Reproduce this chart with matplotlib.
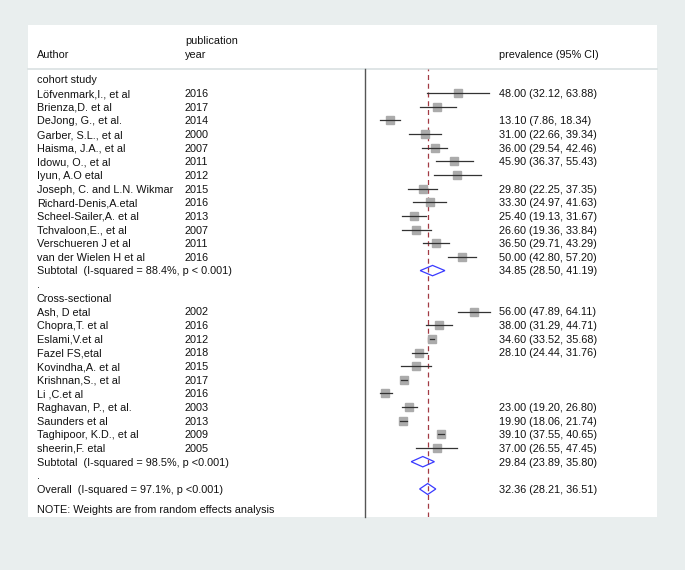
import matplotlib.pyplot as plt
from matplotlib.patches import Rectangle, Polygon

plt.rcParams['font.family'] = ['Liberation Sans', 'DejaVu Sans']

# cohort studies
cohort_authors = ['Löfvenmark,I., et al', 'Brienza,D. et al', 'DeJong, G., et al.',
                  'Garber, S.L., et al', 'Haisma, J.A., et al', 'Idowu, O., et al',
                  'Iyun, A.O etal', 'Joseph, C. and L.N. Wikmar', 'Richard-Denis,A.etal',
                  'Scheel-Sailer,A. et al', 'Tchvaloon,E., et al', 'Verschueren J et al',
                  'van der Wielen H et al']
cohort_years = ['2016', '2017', '2014', '2000', '2007', '2011', '2012', '2015',
                '2016', '2013', '2007', '2011', '2016']
cohort_est = [48.00, 37.3, 13.10, 31.00, 36.00, 45.90, 47.5, 29.80, 33.30, 25.40, 26.60, 36.50, 50.00]
cohort_lo = [32.12, 28.4, 7.86, 22.66, 29.54, 36.37, 35.6, 22.25, 24.97, 19.13, 19.36, 29.71, 42.80]
cohort_hi = [63.88, 46.9, 18.34, 39.34, 42.46, 55.43, 59.5, 37.35, 41.63, 31.67, 33.84, 43.29, 57.20]
cohort_text = ['48.00 (32.12, 63.88)', '', '13.10 (7.86, 18.34)', '31.00 (22.66, 39.34)',
               '36.00 (29.54, 42.46)', '45.90 (36.37, 55.43)', '', '29.80 (22.25, 37.35)',
               '33.30 (24.97, 41.63)', '25.40 (19.13, 31.67)', '26.60 (19.36, 33.84)',
               '36.50 (29.71, 43.29)', '50.00 (42.80, 57.20)']
cohort_sub = (34.85, 28.50, 41.19)
cohort_sub_label = 'Subtotal  (I-squared = 88.4%, p < 0.001)'

# cross-sectional studies
cross_authors = ['Ash, D etal', 'Chopra,T. et al', 'Eslami,V.et al', 'Fazel FS,etal',
                 'Kovindha,A. et al', 'Krishnan,S., et al', 'Li ,C.et al',
                 'Raghavan, P., et al.', 'Saunders et al', 'Taghipoor, K.D., et al',
                 'sheerin,F. etal']
cross_years = ['2002', '2016', '2012', '2018', '2015', '2017', '2016', '2003', '2013', '2009', '2005']
cross_est = [56.00, 38.00, 34.60, 28.10, 26.2, 20.0, 10.6, 23.00, 19.90, 39.10, 37.00]
cross_lo = [47.89, 31.29, 33.52, 24.44, 18.7, 18.6, 7.9, 19.20, 18.06, 37.55, 26.55]
cross_hi = [64.11, 44.71, 35.68, 31.76, 33.9, 21.5, 13.8, 26.80, 21.74, 40.65, 47.45]
cross_text = ['56.00 (47.89, 64.11)', '38.00 (31.29, 44.71)', '34.60 (33.52, 35.68)',
              '28.10 (24.44, 31.76)', '', '', '', '23.00 (19.20, 26.80)',
              '19.90 (18.06, 21.74)', '39.10 (37.55, 40.65)', '37.00 (26.55, 47.45)']
cross_sub = (29.84, 23.89, 35.80)
cross_sub_label = 'Subtotal  (I-squared = 98.5%, p <0.001)'

overall = (32.36, 28.21, 36.51)
overall_label = 'Overall  (I-squared = 97.1%, p <0.001)'

W, H = 685, 570
fig = plt.figure(figsize=(W / 100, H / 100), dpi=100)
fig.patch.set_facecolor('#e9eeee')

# background axes in pixel units for the panel and the text columns
bg = fig.add_axes([0, 0, 1, 1])
bg.set_xlim(0, W)
bg.set_ylim(H, 0)
bg.axis('off')
bg.add_patch(Rectangle((28, 25), 629, 492, facecolor='white', edgecolor='none'))
bg.plot([28, 657], [69.3, 69.3], color='#dce3e4', lw=1.3)

fs = 7.8
x_auth, x_year, x_val = 37, 185, 499
row0, step = 79.5, 13.65
base = 3.9  # baseline offset below row centre, px


def ypix(r):
    return row0 + step * r


def label(x, y, s):
    bg.text(x, y + base, s, fontsize=fs, va='baseline', color='#111111')


label(x_year, 40, 'publication')
label(x_auth, 54, 'Author')
label(x_year, 54, 'year')
label(x_val, 54, 'prevalence (95% CI)')

# forest axes
x0, x1 = 364.6, 495.3
y_top, y_bot = 69.3, 517
ax = fig.add_axes([x0 / W, 1 - y_bot / H, (x1 - x0) / W, (y_bot - y_top) / H])
ax.set_xlim(0, (x1 - x0) / 1.95)
ax.set_ylim((y_bot - row0) / step, (y_top - row0) / step)
ax.patch.set_alpha(0)
for s in ['top', 'right', 'bottom']:
    ax.spines[s].set_visible(False)
ax.spines['left'].set_color('#555555')
ax.spines['left'].set_linewidth(1.0)
ax.set_xticks([])
ax.set_yticks([])

ax.axvline(overall[0], color='#a33a44', lw=0.9, linestyle=(0, (4, 3)), zorder=1)


def study(r, est, lo, hi):
    ax.plot([est], [r], marker='s', markersize=5.6, color='#ababab', mec='#ababab', zorder=2)
    ax.plot([lo, hi], [r, r], color='#333333', lw=0.9, zorder=3)


def diamond(r, est, lo, hi, h=0.38):
    ax.add_patch(Polygon([(lo, r), (est, r - h), (hi, r), (est, r + h)], closed=True,
                         fill=False, edgecolor='#3a3aff', lw=0.9, zorder=3))


r = 0
label(x_auth, ypix(r), 'cohort study')
for i in range(len(cohort_authors)):
    r += 1
    label(x_auth, ypix(r), cohort_authors[i])
    label(x_year, ypix(r), cohort_years[i])
    label(x_val, ypix(r), cohort_text[i])
    study(r, cohort_est[i], cohort_lo[i], cohort_hi[i])
r += 1
label(x_auth, ypix(r), cohort_sub_label)
label(x_val, ypix(r), '%.2f (%.2f, %.2f)' % cohort_sub)
diamond(r, *cohort_sub)
r += 1
label(x_auth, ypix(r), '.')
r += 1
label(x_auth, ypix(r), 'Cross-sectional')
for i in range(len(cross_authors)):
    r += 1
    label(x_auth, ypix(r), cross_authors[i])
    label(x_year, ypix(r), cross_years[i])
    label(x_val, ypix(r), cross_text[i])
    study(r, cross_est[i], cross_lo[i], cross_hi[i])
r += 1
label(x_auth, ypix(r), cross_sub_label)
label(x_val, ypix(r), '%.2f (%.2f, %.2f)' % cross_sub)
diamond(r, *cross_sub)
r += 1
label(x_auth, ypix(r), '.')
r += 1
label(x_auth, ypix(r), overall_label)
label(x_val, ypix(r), '%.2f (%.2f, %.2f)' % overall)
diamond(r, *overall, h=0.4)

label(x_auth, ypix(r) + 20, 'NOTE: Weights are from random effects analysis')

fig.savefig('out.png', dpi=100, facecolor=fig.get_facecolor())
